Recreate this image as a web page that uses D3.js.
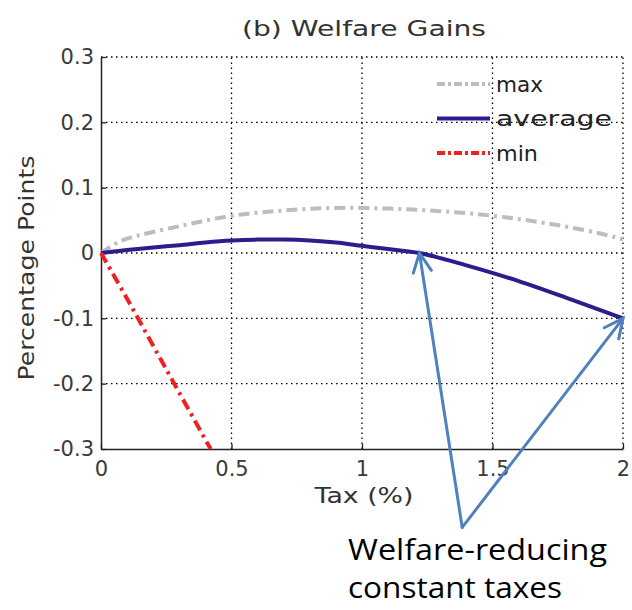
<!DOCTYPE html>
<html>
<head>
<meta charset="utf-8">
<script src="https://cdn.jsdelivr.net/npm/d3@7"></script>
<style>
  body { margin: 0; background: #fff; }
  svg text { font-family: "DejaVu Sans", sans-serif; }
</style>
</head>
<body>
<div id="chart"></div>
<script>
// Data
const taxMax = [0, 0.05, 0.1, 0.3, 0.5, 0.7, 0.9, 1.1, 1.3, 1.5, 1.7, 1.9, 2.0];
const welfareMax = [0, 0.013, 0.022, 0.041, 0.057, 0.065, 0.069, 0.068, 0.064, 0.057, 0.046, 0.031, 0.021];

const taxAvg = [0, 0.1, 0.2, 0.3, 0.4, 0.5, 0.6, 0.7, 0.8, 0.9, 1.0, 1.1, 1.22, 1.4, 1.6, 1.8, 2.0];
const welfareAvg = [0, 0.0045, 0.0085, 0.012, 0.016, 0.019, 0.0205, 0.0205, 0.019, 0.016, 0.011, 0.006, 0, -0.019, -0.043, -0.071, -0.1];

const taxMin = [0, 0.1, 0.2, 0.3, 0.42];
const welfareMin = [0, -0.07, -0.142, -0.214, -0.3];

const xTicks = [0, 0.5, 1, 1.5, 2];
const yTicks = [-0.3, -0.2, -0.1, 0, 0.1, 0.2, 0.3];

const series = [
    { name: 'max', x: taxMax, y: welfareMax, color: '#bdbdbd', dash: '11,5,3,5' },
    { name: 'average', x: taxAvg, y: welfareAvg, color: '#2c1c8e', dash: null },
    { name: 'min', x: taxMin, y: welfareMin, color: '#f02020', dash: '11,5,3,5' }
];

// Annotated points (arrow heads) and shared arrow tail
const arrowTargets = [[1.22, 0], [2, -0.1]];
const arrowTail = [1.384, -0.42];

const width = 632, height = 610;
const margin = { top: 57, right: 8, bottom: 161, left: 101 };

const svg = d3.select('#chart').append('svg')
    .attr('width', width)
    .attr('height', height);

const x = d3.scaleLinear().domain([0, 2]).range([margin.left, width - margin.right - 1]);
const y = d3.scaleLinear().domain([-0.3, 0.3]).range([height - margin.bottom, margin.top]);

// Dotted grid
const grid = svg.append('g').attr('stroke', '#000').attr('stroke-width', 1.3)
    .attr('stroke-dasharray', '1.5,3.5');
grid.selectAll('.gx').data(xTicks.slice(1)).join('line')
    .attr('x1', d => x(d)).attr('x2', d => x(d))
    .attr('y1', y(-0.3)).attr('y2', y(0.3));
grid.selectAll('.gy').data(yTicks.slice(1)).join('line')
    .attr('y1', d => y(d)).attr('y2', d => y(d))
    .attr('x1', x(0)).attr('x2', x(2));

// Axes (ticks point inward, labels use a plain hyphen)
const fmt = d => String(+d.toFixed(1));
const xAxis = svg.append('g')
    .attr('transform', `translate(0,${y(-0.3)})`)
    .call(d3.axisBottom(x).tickValues(xTicks).tickFormat(fmt).tickSizeInner(-5).tickSizeOuter(0).tickPadding(12));
const yAxis = svg.append('g')
    .attr('transform', `translate(${x(0)},0)`)
    .call(d3.axisLeft(y).tickValues(yTicks).tickFormat(fmt).tickSizeInner(-5).tickSizeOuter(0).tickPadding(7));

[xAxis, yAxis].forEach(a => {
    a.select('.domain').attr('stroke', '#222').attr('stroke-width', 1.5);
    a.selectAll('.tick line').attr('stroke', '#222').attr('stroke-width', 1.3);
    a.selectAll('.tick text').attr('fill', '#3a3a3a').attr('font-size', 21);
});

// Lines
const line = d3.line().curve(d3.curveCatmullRom.alpha(0.5));
svg.append('g').selectAll('path').data(series).join('path')
    .attr('d', s => line(s.x.map((v, i) => [x(v), y(s.y[i])])))
    .attr('fill', 'none')
    .attr('stroke', s => s.color)
    .attr('stroke-width', 4)
    .attr('stroke-dasharray', s => s.dash);

// Legend
const legendWidths = { max: 47, average: 116, min: 42 };
const legend = svg.append('g').attr('transform', `translate(437,84)`);
const item = legend.selectAll('g').data(series).join('g')
    .attr('transform', (d, i) => `translate(0,${i * 34.5})`);
item.append('line')
    .attr('x1', 0).attr('x2', 53)
    .attr('stroke', d => d.color)
    .attr('stroke-width', 4)
    .attr('stroke-dasharray', d => d.dash ? '8,3,3,3' : null);
item.append('text')
    .attr('x', 59).attr('dy', '0.35em')
    .attr('font-size', 22).attr('fill', '#222')
    .attr('textLength', d => legendWidths[d.name])
    .attr('lengthAdjust', 'spacingAndGlyphs')
    .text(d => d.name);

// Titles
svg.append('text')
    .attr('x', 364).attr('y', 36)
    .attr('text-anchor', 'middle').attr('font-size', 22).attr('fill', '#333')
    .attr('textLength', 244).attr('lengthAdjust', 'spacingAndGlyphs')
    .text('(b) Welfare Gains');
svg.append('text')
    .attr('x', 364).attr('y', 503)
    .attr('text-anchor', 'middle').attr('font-size', 22).attr('fill', '#333')
    .attr('textLength', 99).attr('lengthAdjust', 'spacingAndGlyphs')
    .text('Tax (%)');
svg.append('text')
    .attr('transform', 'translate(34,268) rotate(-90)')
    .attr('text-anchor', 'middle').attr('font-size', 22).attr('fill', '#333')
    .attr('textLength', 225).attr('lengthAdjust', 'spacingAndGlyphs')
    .text('Percentage Points');

// Annotation arrows
const arrowColor = '#4f81bd';
const ann = svg.append('g').attr('stroke', arrowColor).attr('stroke-width', 3)
    .attr('fill', 'none').attr('stroke-linecap', 'round');
arrowTargets.forEach(t => {
    const x0 = x(arrowTail[0]), y0 = y(arrowTail[1]);
    const x1 = x(t[0]), y1 = y(t[1]);
    const ang = Math.atan2(y1 - y0, x1 - x0);
    const len = 21, spread = 0.45;
    ann.append('line').attr('x1', x0).attr('y1', y0).attr('x2', x1).attr('y2', y1);
    ann.append('path').attr('d', d3.line()([
        [x1 - len * Math.cos(ang - spread), y1 - len * Math.sin(ang - spread)],
        [x1, y1],
        [x1 - len * Math.cos(ang + spread), y1 - len * Math.sin(ang + spread)]
    ]));
});

const note = svg.append('g').attr('fill', '#000').attr('font-size', 29);
note.append('text').attr('x', 348).attr('y', 560)
    .style('font-family', '"Open Sans", sans-serif')
    .attr('textLength', 259).attr('lengthAdjust', 'spacingAndGlyphs')
    .text('Welfare-reducing');
note.append('text').attr('x', 348).attr('y', 598)
    .style('font-family', '"Open Sans", sans-serif')
    .attr('textLength', 214).attr('lengthAdjust', 'spacingAndGlyphs')
    .text('constant taxes');
</script>
</body>
</html>
